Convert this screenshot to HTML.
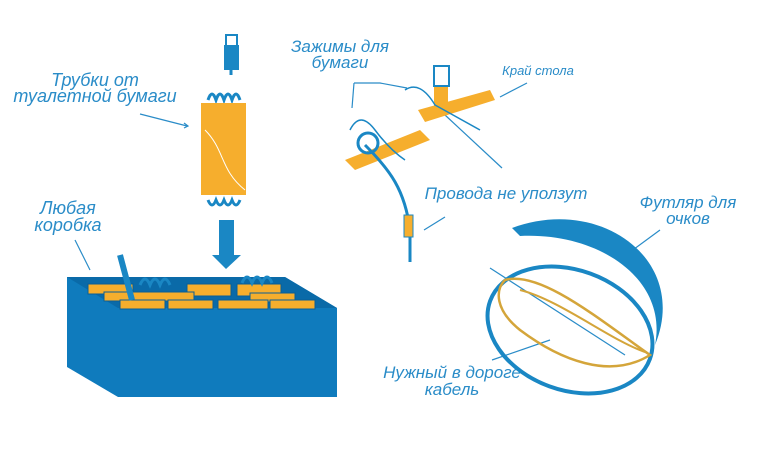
<!DOCTYPE html>
<html><head><meta charset="utf-8"><style>
html,body{margin:0;padding:0;background:#fff;}
svg{display:block}
text{font-family:"Liberation Sans",sans-serif;font-style:italic;fill:#2a8cc8;}
</style></head><body>
<svg width="760" height="457" viewBox="0 0 760 457" xmlns="http://www.w3.org/2000/svg">
<g stroke="#2a8cc8" stroke-width="1.2" fill="none">
<line x1="140" y1="114" x2="187" y2="126"/><polyline points="184,123 188,126 184,128"/>
<line x1="75" y1="240" x2="90" y2="270"/>
<polyline points="354,83 352,108"/><polyline points="354,83 380,83 407,88"/>
<line x1="527" y1="83" x2="500" y2="97"/>
<line x1="502" y1="168" x2="445" y2="115"/>
<line x1="445" y1="217" x2="424" y2="230"/>
<line x1="660" y1="230" x2="630" y2="252"/>
<line x1="490" y1="268" x2="625" y2="355"/>
<line x1="492" y1="360" x2="550" y2="340"/>
</g>
<text x="95" y="86" font-size="18" text-anchor="middle">Трубки от</text>
<text x="95" y="102" font-size="18" text-anchor="middle">туалетной бумаги</text>
<text x="68" y="214" font-size="18" text-anchor="middle">Любая</text>
<text x="68" y="231" font-size="18" text-anchor="middle">коробка</text>
<text x="340" y="52" font-size="17" text-anchor="middle">Зажимы для</text>
<text x="340" y="68" font-size="17" text-anchor="middle">бумаги</text>
<text x="538" y="75" font-size="13" text-anchor="middle">Край стола</text>
<text x="506" y="199" font-size="17" text-anchor="middle">Провода не уползут</text>
<text x="688" y="208" font-size="17" text-anchor="middle">Футляр для</text>
<text x="688" y="224" font-size="17" text-anchor="middle">очков</text>
<text x="452" y="378" font-size="17" text-anchor="middle">Нужный в дороге</text>
<text x="452" y="395" font-size="17" text-anchor="middle">кабель</text>
<!-- tube -->
<g stroke="#1a87c4" stroke-width="3" fill="none">
<path d="M231 35 V75 M208 100 q4-12 8 0 q4-12 8 0 q4-12 8 0 q4-12 8 0 M208 200 q4 10 8 0 q4 10 8 0 q4 10 8 0 q4 10 8 0"/>
</g>
<rect x="224" y="45" width="15" height="25" fill="#1a87c4"/><rect x="226" y="35" width="11" height="11" fill="#fff" stroke="#1a87c4" stroke-width="2"/>
<rect x="201" y="103" width="45" height="92" fill="#f6ae2d"/>
<path d="M205 130 C225 150,220 170,245 190" stroke="#fff" stroke-width="1" fill="none"/>
<rect x="219" y="220" width="15" height="36" fill="#1a87c4"/><polygon points="212,255 241,255 226,269" fill="#1a87c4"/>
<!-- box -->
<polygon points="67,277 285,277 337,308 337,397 118,397 67,367" fill="#0f7bbd"/>
<polygon points="67,277 285,277 337,308 118,308" fill="#0a6aa8"/>
<g fill="#f6ae2d" stroke="#0a5f96" stroke-width="1">
<rect x="88" y="284" width="45" height="10"/><rect x="187" y="284" width="44" height="12"/><rect x="237" y="284" width="44" height="12"/>
<rect x="104" y="292" width="90" height="9"/><rect x="250" y="293" width="45" height="9"/>
<rect x="120" y="300" width="45" height="9"/><rect x="168" y="300" width="45" height="9"/><rect x="218" y="300" width="50" height="9"/><rect x="270" y="300" width="45" height="9"/>
</g>
<path d="M140 285 q5-12 10 0 q5-12 10 0 q5-12 10 0 M242 283 q5-12 10 0 q5-12 10 0 q5-12 10 0" stroke="#1a87c4" stroke-width="3" fill="none"/>
<path d="M120 255 L132 300" stroke="#1a87c4" stroke-width="6"/>
<!-- clips -->
<g fill="#f6ae2d">
<polygon points="345,160 420,130 430,140 355,170"/><polygon points="418,110 490,90 495,100 425,122"/>
<rect x="434" y="85" width="14" height="30"/>
</g>
<rect x="434" y="66" width="15" height="20" fill="#fff" stroke="#1a87c4" stroke-width="2"/>
<path d="M405 90 q15-10 30 15 L480 130 M350 130 q10-20 25 0 q15 20 30 30" stroke="#1a87c4" stroke-width="1.5" fill="none"/>
<path d="M365 145 C390 170,405 190,410 230 V262" stroke="#1a87c4" stroke-width="3" fill="none"/>
<circle cx="368" cy="143" r="10" stroke="#1a87c4" stroke-width="3" fill="none"/>
<rect x="404" y="215" width="9" height="22" fill="#f6ae2d" stroke="#1a87c4"/>
<!-- case -->
<path d="M512 228 C600 195,690 260,655 345 C668 280,600 232,520 236 Z" fill="#1a87c4"/>
<ellipse cx="570" cy="330" rx="85" ry="60" transform="rotate(20 570 330)" fill="none" stroke="#1a87c4" stroke-width="4"/>
<path d="M505 280 C540 270,600 320,650 355 C610 380,560 360,520 330 C495 310,495 290,505 280 Z" fill="none" stroke="#d4a53a" stroke-width="2.5"/>
<path d="M520 290 C560 300,610 340,645 352" stroke="#d4a53a" stroke-width="2" fill="none"/>
</svg>
</body></html>
